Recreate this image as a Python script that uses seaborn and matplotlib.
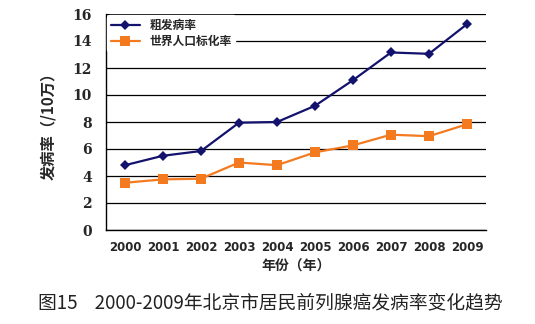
import matplotlib
matplotlib.use("Agg")
import matplotlib.pyplot as plt
import seaborn as sns
import pandas as pd
import numpy as np

years = [2000, 2001, 2002, 2003, 2004, 2005, 2006, 2007, 2008, 2009]
crude_rate = [4.8, 5.5, 5.85, 7.95, 8.0, 9.2, 11.1, 13.15, 13.05, 15.25]
std_rate = [3.5, 3.75, 3.8, 5.0, 4.8, 5.75, 6.27, 7.06, 6.95, 7.83]
series_names = ["粗发病率", "世界人口标化率"]
y_ticks = [0, 2, 4, 6, 8, 10, 12, 14, 16]

sns.set_theme(style="white")
plt.rcParams['font.family'] = ['Noto Sans CJK SC', 'DejaVu Sans']

df = pd.DataFrame({
    "year": years * 2,
    "rate": crude_rate + std_rate,
    "series": [series_names[0]] * len(years) + [series_names[1]] * len(years),
})

fig = plt.figure(figsize=(5.35, 3.24), dpi=100)
ax = fig.add_axes([106/535, 1 - 230/324, 380/535, 216/324])

palette = {series_names[0]: "#13136e", series_names[1]: "#f47a20"}
markers = {series_names[0]: "D", series_names[1]: "s"}
sns.lineplot(data=df, x="year", y="rate", hue="series", style="series",
             palette=palette, markers=markers, dashes=False, ax=ax,
             linewidth=1.6, markersize=6, markeredgewidth=0)
for line in ax.lines:
    if line.get_marker() == "s":
        line.set_markersize(7)
    elif line.get_marker() == "D":
        line.set_markersize(5)

ax.set_xlim(1999.5, 2009.5)
ax.set_ylim(0, 16)
ax.set_yticks(y_ticks)
ax.set_xticks(years)
ax.set_xticklabels([str(y) for y in years], fontsize=8.5, fontweight="bold", family="DejaVu Sans")
ax.set_yticklabels([str(t) for t in y_ticks], fontsize=10, fontweight="bold", family="DejaVu Serif")
ax.set_xticks(np.arange(2000.5, 2009.5, 1), minor=True)
ax.tick_params(axis="x", which="major", length=0, pad=8)
ax.tick_params(axis="x", which="minor", direction="in", length=4, width=0.8, color="black")
ax.tick_params(axis="y", length=0, pad=10)

ax.grid(axis="y", color="black", linewidth=0.9)
ax.grid(axis="x", visible=False)
for s in ["top", "right"]:
    ax.spines[s].set_visible(False)
for s in ["left", "bottom"]:
    ax.spines[s].set_color("black")
    ax.spines[s].set_linewidth(1.0)

ax.set_xlabel("年份（年）", fontsize=10, fontweight="bold", labelpad=4)
ax.set_ylabel("发病率（/10万）", fontsize=11, fontweight="bold", labelpad=12)

leg = ax.legend(loc="upper left", frameon=True, fontsize=8.5, borderaxespad=0.1,
                handlelength=2.5, labelspacing=0.3, borderpad=0.3)
leg.get_frame().set_edgecolor("white")
leg.get_frame().set_facecolor("white")
leg.get_frame().set_alpha(1)
for t in leg.get_texts():
    t.set_fontweight("bold")

fig.text(38/535, 1 - 303/324, "图15    2000-2009年北京市居民前列腺癌发病率变化趋势",
         fontsize=13.5, ha="left", va="center", color="#222222")

fig.savefig("out.png", dpi=100, facecolor="white")
